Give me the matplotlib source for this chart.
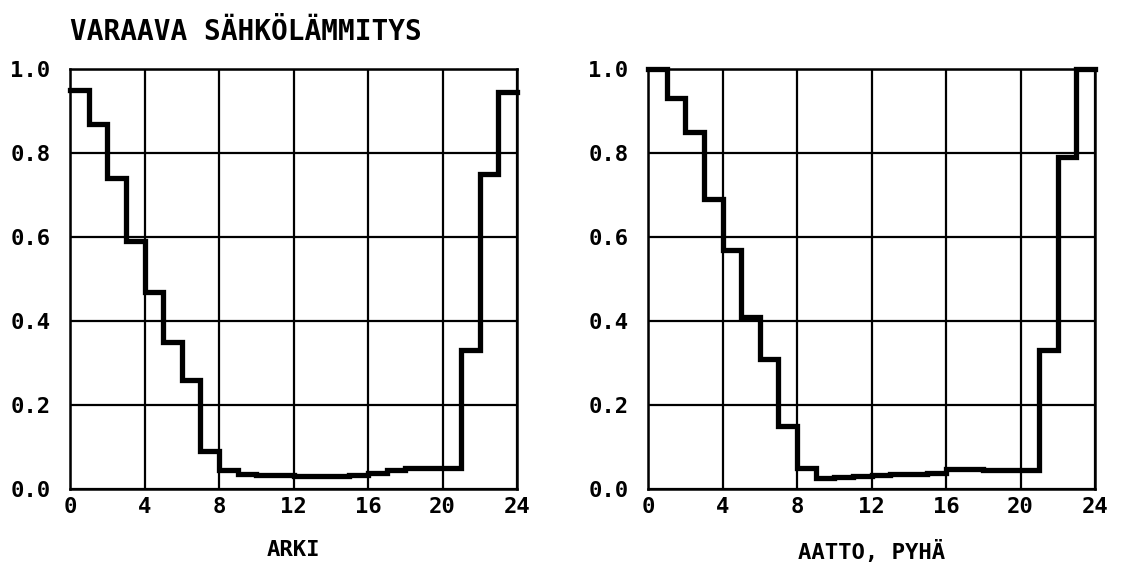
import numpy as np
import matplotlib
matplotlib.use("Agg")
import matplotlib.pyplot as plt

hours = list(range(24))
arki = [0.95, 0.87, 0.74, 0.59, 0.47, 0.35, 0.26, 0.09, 0.045, 0.035,
        0.033, 0.033, 0.03, 0.03, 0.03, 0.033, 0.038, 0.045, 0.049, 0.049,
        0.049, 0.33, 0.75, 0.945]
pyha = [1.0, 0.93, 0.85, 0.69, 0.57, 0.41, 0.31, 0.15, 0.05, 0.027,
        0.029, 0.031, 0.033, 0.035, 0.035, 0.038, 0.047, 0.047, 0.046, 0.045,
        0.045, 0.33, 0.79, 1.0]
xticks = [0, 4, 8, 12, 16, 20, 24]
yticks = [0.0, 0.2, 0.4, 0.6, 0.8, 1.0]
title = "VARAAVA SÄHKÖLÄMMITYS"
xlabels = ["ARKI", "AATTO, PYHÄ"]

W, H = 1124, 568
fig = plt.figure(figsize=(W / 100, H / 100), dpi=100)
font = dict(family="DejaVu Sans Mono", weight="bold")

def px_axes(x0, y0, x1, y1):
    return fig.add_axes([x0 / W, 1 - y1 / H, (x1 - x0) / W, (y1 - y0) / H])

axes = [px_axes(70, 69, 517, 489), px_axes(648, 69, 1095, 489)]
for ax, vals, lab in zip(axes, [arki, pyha], xlabels):
    edges = hours + [24]
    ax.step(edges, vals + [vals[-1]], where="post", color="black", lw=3.8,
            clip_on=False, solid_joinstyle="miter", zorder=3)
    ax.set_xlim(0, 24)
    ax.set_ylim(0, 1.0)
    ax.set_xticks(xticks)
    ax.set_yticks(yticks)
    ax.set_xticklabels([str(t) for t in xticks], fontsize=16, **font)
    ax.set_yticklabels([f"{t:.1f}" for t in yticks], fontsize=16, **font)
    ax.tick_params(axis="x", length=0, pad=6)
    ax.tick_params(axis="y", length=0, pad=14)
    ax.grid(True, color="black", lw=1.6)
    for s in ax.spines.values():
        s.set_linewidth(1.8)
    ax.set_xlabel(lab, fontsize=16, labelpad=16, **font)

fig.text(70 / W, 1 - 32 / H, title, fontsize=20, va="center", ha="left", **font)
fig.savefig("out.png", dpi=100, facecolor="white")
